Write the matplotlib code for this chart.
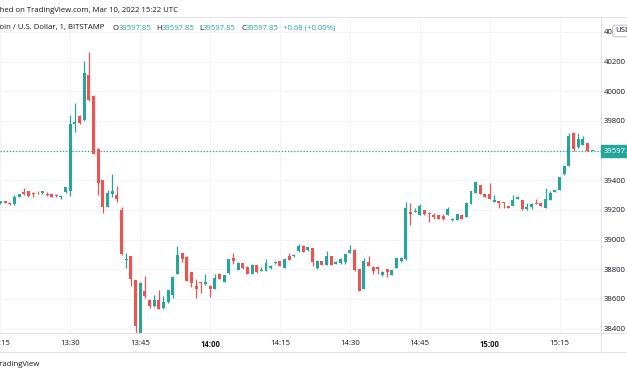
import numpy as np
import pandas as pd
import matplotlib
matplotlib.use('Agg')
import matplotlib.pyplot as plt
from matplotlib.lines import Line2D

plt.rcParams['font.family'] = ['Open Sans', 'DejaVu Sans']

# BTC/USD 1-minute candles, Bitstamp, 10 Mar 2022 from 13:15 UTC
opens = [39245, 39258, 39250, 39240, 39290, 39320, 39325, 39315, 39322, 39313, 39310, 39305, 39302, 39288, 39318,
         39330, 39782, 39835, 39805, 40107, 39967, 39611, 39400, 39222, 39310, 39302, 39200, 38862, 38890, 38727,
         38367, 38650, 38590, 38551, 38593, 38538, 38578, 38629, 38767, 38907, 38884, 38778, 38690, 38712, 38698,
         38689, 38667, 38769, 38715, 38773, 38875, 38795, 38840, 38818, 38769, 38827, 38787, 38787, 38805, 38840,
         38853, 38809, 38889, 38887, 38920, 38960, 38927, 38944, 38805, 38855, 38831, 38889, 38835, 38840, 38851,
         38911, 38933, 38800, 38667, 38851, 38818, 38818, 38760, 38800, 38760, 38811, 38855, 38867, 39189, 39185,
         39169, 39200, 39180, 39164, 39164, 39160, 39167, 39129, 39133, 39169, 39151, 39240, 39316, 39367, 39307,
         39307, 39256, 39258, 39251, 39227, 39227, 39273, 39267, 39204, 39218, 39247, 39249, 39216, 39267, 39322,
         39333, 39440, 39496, 39722, 39622, 39640, 39651, 39597.85]
highs = [39262, 39262, 39252, 39298, 39310, 39345, 39330, 39318, 39330, 39328, 39318, 39307, 39305, 39296, 39356,
         39840, 39920, 39838, 40205, 40267, 39978, 39615, 39402, 39333, 39445, 39360, 39218, 38907, 38892, 38730,
         38712, 38755, 38598, 38629, 38662, 38620, 38662, 38755, 38960, 38910, 38886, 38780, 38735, 38715, 38767,
         38692, 38765, 38772, 38763, 38870, 38911, 38851, 38842, 38820, 38834, 38830, 38813, 38867, 38830, 38854,
         38856, 38873, 38911, 38900, 38971, 38963, 38951, 38946, 38862, 38858, 38922, 38891, 38853, 38873, 38906,
         38962, 38935, 38802, 38878, 38889, 38820, 38820, 38790, 38802, 38797, 38875, 38880, 39251, 39244, 39210,
         39242, 39202, 39185, 39178, 39166, 39170, 39218, 39144, 39173, 39171, 39251, 39329, 39387, 39369, 39309,
         39382, 39300, 39260, 39253, 39229, 39300, 39291, 39269, 39245, 39250, 39273, 39251, 39345, 39330, 39335,
         39424, 39498, 39722, 39724, 39722, 39700, 39653, 39597.85]
lows = [39240, 39246, 39234, 39236, 39286, 39303, 39288, 39290, 39308, 39310, 39296, 39287, 39290, 39275, 39315,
        39293, 39727, 39780, 39800, 39935, 39575, 39300, 39182, 39220, 39290, 39255, 38895, 38805, 38685, 38350,
        38360, 38605, 38540, 38545, 38530, 38535, 38575, 38605, 38765, 38850, 38720, 38678, 38609, 38640, 38695,
        38610, 38665, 38732, 38712, 38770, 38835, 38793, 38800, 38765, 38766, 38772, 38785, 38785, 38800, 38838,
        38820, 38807, 38860, 38885, 38918, 38913, 38925, 38822, 38803, 38829, 38829, 38829, 38833, 38838, 38835,
        38909, 38790, 38652, 38665, 38820, 38767, 38767, 38752, 38747, 38758, 38809, 38850, 38865, 39100, 39183,
        39167, 39169, 39120, 39140, 39136, 39130, 39165, 39127, 39131, 39140, 39149, 39238, 39314, 39305, 39287,
        39273, 39254, 39211, 39215, 39211, 39225, 39271, 39202, 39202, 39205, 39238, 39225, 39214, 39265, 39320,
        39331, 39438, 39494, 39600, 39620, 39638, 39595, 39597.85]
closes = [39258, 39250, 39238, 39288, 39305, 39307, 39292, 39305, 39318, 39325, 39300, 39290, 39292, 39294, 39352,
          39780, 39790, 39785, 40125, 39940, 39578, 39382, 39222, 39311, 39330, 39272, 38900, 38872, 38733, 38415,
          38707, 38622, 38550, 38593, 38533, 38578, 38660, 38751, 38898, 38867, 38722, 38707, 38667, 38708, 38711,
          38667, 38738, 38735, 38760, 38867, 38853, 38844, 38809, 38767, 38831, 38782, 38795, 38840, 38824, 38851,
          38822, 38871, 38862, 38893, 38956, 38915, 38949, 38851, 38858, 38831, 38889, 38831, 38851, 38871, 38904,
          38927, 38793, 38655, 38855, 38822, 38787, 38800, 38780, 38778, 38795, 38873, 38873, 39215, 39173, 39195,
          39227, 39171, 39175, 39151, 39138, 39142, 39204, 39142, 39171, 39142, 39249, 39327, 39385, 39307, 39289,
          39275, 39267, 39249, 39244, 39213, 39267, 39289, 39204, 39218, 39238, 39240, 39227, 39273, 39316, 39333,
          39422, 39496, 39700, 39611, 39678, 39678, 39597.17, 39597.85]

times = pd.date_range('2022-03-10 13:15', periods=len(opens), freq='min')
price_ticks = list(range(38400, 40600, 200))
last_price = 39597.85

up_col = '#26a69a'
down_col = '#ef5350'
text_col = '#131722'
line_col = '#e0e3eb'

W, H = 627, 376
def fx(p):
    return p / W
def fy(p):
    return 1 - p / H

fig = plt.figure(figsize=(W / 100, H / 100), dpi=100)
ax = fig.add_axes([0, fy(333), fx(601), (333 - 17) / H])

o = np.array(opens)
h = np.array(highs)
l = np.array(lows)
c = np.array(closes)
x = np.arange(len(o))
colors = np.where(c >= o, up_col, down_col)

ax.vlines(x, l, h, colors=colors, lw=0.9, zorder=3)
ax.bar(x, np.maximum(np.abs(c - o), 5), bottom=np.minimum(o, c), width=0.64,
       color=colors, linewidth=0, zorder=4)

# dotted last price line
ax.axhline(last_price, color=up_col, lw=0.9, ls=(0, (1, 1.5)), zorder=2)

ax.set_xlim(-0.09, 128.9)
ax.set_ylim(38370, 40501)

xt = [i for i, t in enumerate(times) if t.minute % 15 == 0]
ax.set_xticks(xt)
labs = ax.set_xticklabels([times[i].strftime('%H:%M') for i in xt])
for i, lab in zip(xt, labs):
    if times[i].minute == 0:
        lab.set_fontweight('bold')

ax.yaxis.tick_right()
ax.set_yticks(price_ticks)
ax.set_yticklabels([str(v) for v in price_ticks])
ax.tick_params(axis='x', length=0, pad=5, labelsize=5.6, labelcolor=text_col)
ax.tick_params(axis='y', length=0, pad=2, labelsize=5.6, labelcolor=text_col)
for lab in ax.get_yticklabels():
    lab.set_clip_on(False)

ax.grid(color='#f0f3fa', lw=0.8, zorder=0)
ax.set_axisbelow(True)
for s in ax.spines.values():
    s.set_visible(False)

# frame lines
fig.add_artist(Line2D([0, 1], [fy(17), fy(17)], color=line_col, lw=0.8))
fig.add_artist(Line2D([0, 1], [fy(333), fy(333)], color=line_col, lw=0.8))
fig.add_artist(Line2D([0, 1], [fy(352), fy(352)], color=line_col, lw=0.8))
fig.add_artist(Line2D([fx(601), fx(601)], [fy(17), fy(352)], color=line_col, lw=0.8))

r = fig.canvas.get_renderer()

def cut_text(y, hidden, shown, **kw):
    # text that starts left of the picture, like the cropped screenshot
    t = fig.text(0, fy(y), hidden, va='center', **kw)
    w = t.get_window_extent(r).width
    t.set_text(hidden + shown)
    t.set_x(-w / W)

def row(xp, y, pieces, size=5.6):
    for s, col in pieces:
        t = fig.text(fx(xp), fy(y), s, color=col, va='center', fontsize=size)
        xp += t.get_window_extent(r).width

cut_text(10, 'Publis', 'hed on TradingView.com, Mar 10, 2022 15:22 UTC', color=text_col, fontsize=5.6)
cut_text(28, 'Bitc', 'oin / U.S. Dollar, 1, BITSTAMP', color=text_col, fontsize=5.6)
row(113, 28, [('O', text_col), ('39597.85', up_col)])
row(156, 28, [('H', text_col), ('39597.85', up_col)])
row(199, 28, [('L', text_col), ('39597.85', up_col)])
row(241, 28, [('C', text_col), ('39597.85', up_col)])
row(283, 28, [('+0.68 (+0.00%)', up_col)])
cut_text(364, 'T', 'radingView', color=text_col, fontsize=5.6)

# last price tag and currency button on the price scale
fig.text(fx(604), fy(151), f'{last_price:.2f}', color='white', fontsize=5.6, va='center',
         bbox=dict(boxstyle='square,pad=0.35', fc=up_col, ec=up_col))
fig.text(fx(615), fy(31), 'USD', color=text_col, fontsize=5.6, va='center',
         bbox=dict(boxstyle='round,pad=0.3', fc='white', ec='#b2b5be', lw=0.6))

fig.savefig('out.png', dpi=100, facecolor='white')
